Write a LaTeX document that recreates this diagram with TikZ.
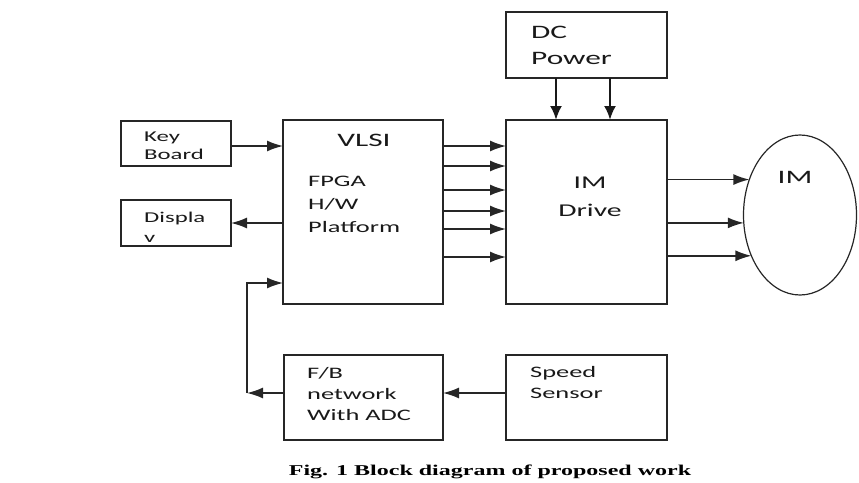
\documentclass[tikz,border=0pt]{standalone}
\usepackage{fontspec}
\setmainfont{Carlito}[FakeStretch=1.65]
\newfontfamily\capfont{Liberation Serif}[FakeStretch=1.6]
\usetikzlibrary{arrows.meta,shapes.geometric}
\begin{document}
\begin{tikzpicture}[x=1pt,y=-1pt,
  box/.style={draw=black!85,line width=1.2pt,inner sep=0pt,outer sep=0pt},
  lbl/.style={inner sep=0pt,text=black!90,font=\fontsize{16}{22}\selectfont,align=left},
  arr/.style={line width=1.5pt,draw=black!85,-{Latex[length=16pt,width=11pt]}},
  thk/.style={line width=2.4pt,draw=black!90,-{Latex[length=14pt,width=12pt]}}]
\useasboundingbox (0,0) rectangle (859,482);
% boxes
\node[box,minimum width=110pt,minimum height=45pt] (kb) at (176,143.5) {};
\node[box,minimum width=110pt,minimum height=46pt] (disp) at (176,223) {};
\node[box,minimum width=160pt,minimum height=184pt] (vlsi) at (363,212) {};
\node[box,minimum width=161pt,minimum height=66pt] (dc) at (586.5,45) {};
\node[box,minimum width=161pt,minimum height=184pt] (drv) at (586.5,212) {};
\node[box,ellipse,minimum width=113pt,minimum height=160pt] (im) at (800,215) {};
\node[box,minimum width=159pt,minimum height=85pt] (fb) at (363.5,397.5) {};
\node[box,minimum width=161pt,minimum height=85pt] (ss) at (586.5,397.5) {};
% texts
\node[lbl,anchor=west,font=\fontsize{15}{18}\selectfont] (kbt) at (144,146) {Key\\Board};
\node[lbl,anchor=west,font=\fontsize{15}{20}\selectfont] (dispt) at (144,227) {Displa\\v};
\node[lbl,anchor=center,font=\fontsize{19}{22}\selectfont] (vlsit) at (364,140) {VLSI};
\node[lbl,anchor=west,font=\fontsize{16}{23}\selectfont] (fpgat) at (308,204) {FPGA\\H/W\\Platform};
\node[lbl,anchor=west,font=\fontsize{19}{26}\selectfont] (dct) at (531,45) {DC\\Power};
\node[lbl,align=center,font=\fontsize{18}{28}\selectfont] (drvt) at (590,197) {IM\\Drive};
\node[lbl,font=\fontsize{19}{22}\selectfont] (imt) at (795,177) {IM};
\node[lbl,anchor=west,font=\fontsize{16}{21}\selectfont] (fbt) at (307,394) {F/B\\network\\With ADC};
\node[lbl,anchor=west,font=\fontsize{16}{21}\selectfont] (sst) at (530,382.5) {Speed\\Sensor};
\node[inner sep=0pt,font=\capfont\bfseries\fontsize{15}{18}\selectfont] (cap) at (490,472) {Fig. 1 Block diagram of proposed work};
% connectors
\draw[arr] (kb.east |- 0,146) -- (vlsi.west |- 0,146);
\draw[arr] (vlsi.west |- 0,223) -- (disp.east |- 0,223);
\foreach \yy in {146,166,190,211,229,257}
  \draw[arr] (vlsi.east |- 0,\yy) -- (drv.west |- 0,\yy);
\draw[thk] (dc.south -| 556,0) -- (drv.north -| 556,0);
\draw[thk] (dc.south -| 610,0) -- (drv.north -| 610,0);
\draw[arr] (drv.east |- im.145.5) -- (im.145.5);
\draw[arr] (drv.east |- im.188) -- (im.188);
\draw[arr] (drv.east |- im.220) -- (im.220);
\draw[arr] (ss.west |- 0,393) -- (fb.east |- 0,393);
\coordinate (fbc) at (247,393);
\draw[arr] (fb.west |- fbc) -- (fbc);
\draw[arr] (fbc) |- (vlsi.west |- 0,283);
\end{tikzpicture}
\end{document}
